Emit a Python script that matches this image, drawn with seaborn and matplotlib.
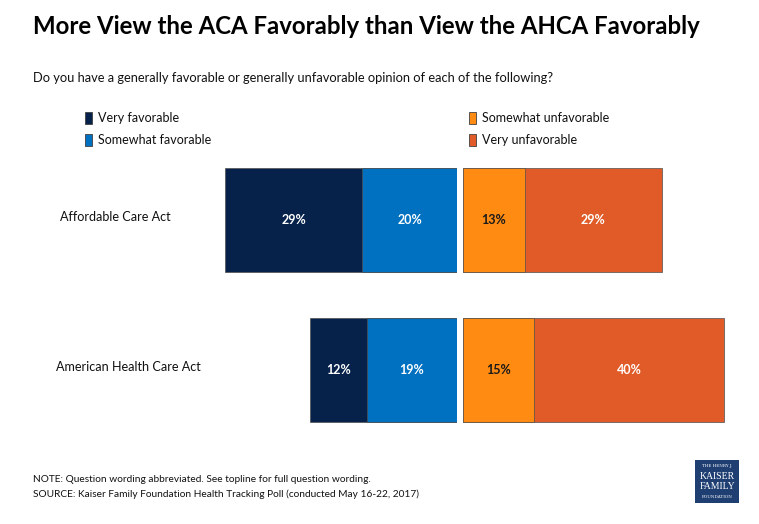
import matplotlib
matplotlib.use("Agg")
import matplotlib.pyplot as plt
import matplotlib.patches as mpatches
import numpy as np
import seaborn as sns

categories = ["Affordable Care Act", "American Health Care Act"]
very_fav = [29, 12]
somewhat_fav = [20, 19]
somewhat_unfav = [13, 15]
very_unfav = [29, 40]

series_names = ["Very favorable", "Somewhat favorable", "Somewhat unfavorable", "Very unfavorable"]
colors = ["#06224B", "#0070C0", "#FF8B12", "#E05B27"]
text_colors = ["white", "white", "#1a1a1a", "white"]

title = "More View the ACA Favorably than View the AHCA Favorably"
subtitle = "Do you have a generally favorable or generally unfavorable opinion of each of the following?"
note1 = "NOTE: Question wording abbreviated. See topline for full question wording."
note2 = "SOURCE: Kaiser Family Foundation Health Tracking Poll (conducted May 16-22, 2017)"

sns.set_theme(style="white")
plt.rcParams['font.family'] = ['Lato', 'DejaVu Sans']

W, H = 759, 524
fig = plt.figure(figsize=(W / 100, H / 100), dpi=100)

def fx(x):
    return x / W

def fy(y):
    return 1 - y / H

PX_PER_PCT = 4.74
ax_top, ax_bot = 145, 445
left_x0, left_x1 = 200, 457
right_x0, right_x1 = 463, 745

axL = fig.add_axes([fx(left_x0), fy(ax_bot), (left_x1 - left_x0) / W, (ax_bot - ax_top) / H])
axR = fig.add_axes([fx(right_x0), fy(ax_bot), (right_x1 - right_x0) / W, (ax_bot - ax_top) / H])

vf = np.array(very_fav)
sf = np.array(somewhat_fav)
su = np.array(somewhat_unfav)
vu = np.array(very_unfav)

bw = 0.69
edge = dict(edgecolor="#505050", linewidth=0.5, saturation=1)

sns.barplot(x=-(vf + sf), y=categories, ax=axL, color=colors[0], width=bw, orient="h", **edge)
sns.barplot(x=-sf, y=categories, ax=axL, color=colors[1], width=bw, orient="h", **edge)
sns.barplot(x=su + vu, y=categories, ax=axR, color=colors[3], width=bw, orient="h", **edge)
sns.barplot(x=su, y=categories, ax=axR, color=colors[2], width=bw, orient="h", **edge)

axL.set_xlim(-(left_x1 - left_x0) / PX_PER_PCT, 0)
axR.set_xlim(0, (right_x1 - right_x0) / PX_PER_PCT)
for ax in (axL, axR):
    ax.set_ylim(1.5, -0.5)
    ax.axis("off")

lab_kw = dict(ha="center", va="center", fontsize=9, fontweight="bold")
for i in range(len(categories)):
    axL.text(-(sf[i] + vf[i] / 2), i, f"{vf[i]}%", color=text_colors[0], **lab_kw)
    axL.text(-sf[i] / 2, i, f"{sf[i]}%", color=text_colors[1], **lab_kw)
    axR.text(su[i] / 2, i, f"{su[i]}%", color=text_colors[2], **lab_kw)
    axR.text(su[i] + vu[i] / 2, i, f"{vu[i]}%", color=text_colors[3], **lab_kw)

# category labels
cat_pos = [(60, 217), (56, 367)]
for name, (x, y) in zip(categories, cat_pos):
    fig.text(fx(x), fy(y), name, ha="left", va="center", fontsize=9.1, color="#111111")

# title / subtitle
fig.text(fx(33), fy(27), title, ha="left", va="center", fontsize=17.3, fontweight="bold", color="black")
fig.text(fx(33), fy(78), subtitle, ha="left", va="center", fontsize=9.3, color="#111111")

# legends
def make_handles(idx):
    return [mpatches.Patch(facecolor=colors[i], edgecolor="#404040", linewidth=0.6) for i in idx]

leg_kw = dict(frameon=False, fontsize=9, handlelength=0.55, handleheight=1.1,
              handletextpad=0.5, labelspacing=0.8, borderaxespad=0, borderpad=0, loc="upper left")
leg1 = fig.legend(make_handles([0, 1]), series_names[:2], bbox_to_anchor=(fx(85), fy(112)), **leg_kw)
leg2 = fig.legend(make_handles([2, 3]), series_names[2:], bbox_to_anchor=(fx(469), fy(112)), **leg_kw)
for leg in (leg1, leg2):
    for t in leg.get_texts():
        t.set_color("#111111")

# notes
fig.text(fx(33), fy(480), note1, ha="left", va="center", fontsize=7.3, color="#111111")
fig.text(fx(33), fy(494), note2, ha="left", va="center", fontsize=7.3, color="#111111")

# logo
logo = fig.add_axes([fx(695), fy(503), 44 / W, 43 / H])
logo.set_facecolor("#1F3F73")
logo.set_xticks([]); logo.set_yticks([])
for s in logo.spines.values():
    s.set_visible(False)
logo.set_xlim(0, 1); logo.set_ylim(0, 1)
serif = ['DejaVu Serif']
logo.text(0.5, 0.87, "THE HENRY J.", ha="center", va="center", fontsize=3, color="white", family=serif)
logo.text(0.5, 0.62, "KAISER", ha="center", va="center", fontsize=7, color="white", family=['Liberation Serif'])
logo.text(0.5, 0.38, "FAMILY", ha="center", va="center", fontsize=7, color="white", family=['Liberation Serif'])
logo.text(0.5, 0.13, "FOUNDATION", ha="center", va="center", fontsize=3, color="white", family=serif)

fig.savefig("out.png", dpi=100, facecolor="white")
